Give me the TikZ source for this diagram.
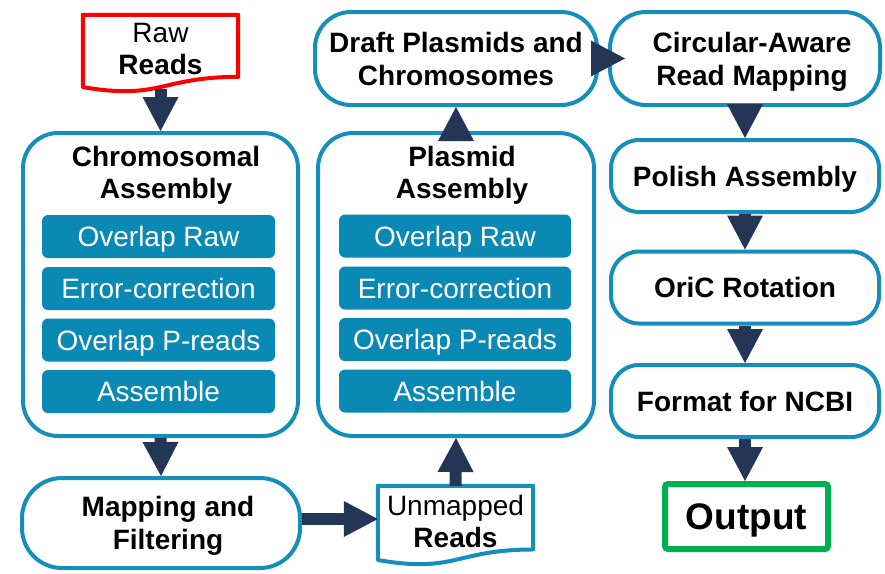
\documentclass[tikz,border=0pt]{standalone}
\usepackage{fontspec}
\setmainfont{Liberation Sans}
\usetikzlibrary{arrows.meta,calc}
\definecolor{bstroke}{RGB}{22,142,188}
\definecolor{bfill}{RGB}{11,137,181}
\definecolor{navy}{RGB}{36,54,86}
\definecolor{rawred}{RGB}{255,0,0}
\definecolor{outgreen}{RGB}{0,176,80}
\tikzset{
  rbox/.style={draw=bstroke,line width=4pt,fill=white,rounded corners=#1,align=center,
    font=\fontsize{28}{33}\selectfont\bfseries,inner sep=0pt,text depth=0pt},
  bigbox/.style={draw=bstroke,line width=4pt,fill=white,rounded corners=35pt,inner sep=0pt},
  titletext/.style={align=center,font=\fontsize{28}{32}\selectfont\bfseries,inner sep=0pt},
  stepbox/.style={fill=bfill,rounded corners=6pt,minimum width=233pt,minimum height=43pt,
    inner sep=0pt,text=white,font=\fontsize{28}{30}\selectfont,text height=20pt,text depth=0pt},
  docnode/.style={inner sep=0pt,align=center,font=\fontsize{28}{32}\selectfont},
  blk/.style={draw=navy,line width=12pt,-{Triangle[length=34pt,width=36pt,line width=0pt]}},
}
\newcommand\docoutline[2]{%
  \draw[#2,line width=4pt,fill=white,line join=round]
    (#1.north west) -- (#1.north east) -- ($(#1.north east)!0.802!(#1.south east)$)
    .. controls ($(#1.north)!0.802!(#1.south)$) and ($(#1.north)!1.107!(#1.south)$)
    .. ($(#1.north west)!0.934!(#1.south west)$) -- cycle;}
\begin{document}
\begin{tikzpicture}[x=1pt,y=-1pt]
\useasboundingbox (0,0) rectangle (885,573);
\fill[white] (0,0) rectangle (885,573);

% documents
\path (160.5,53.5) node[docnode,minimum width=155pt,minimum height=77pt] (raw) {};
\docoutline{raw}{draw=rawred}
\node[docnode] (rawt) at (160.5,49.5) {Raw\\\textbf{Reads}};

\path (455.5,525.5) node[docnode,minimum width=155pt,minimum height=79pt] (unm) {};
\docoutline{unm}{draw=bstroke}
\node[docnode] (unmt) at (455.5,521) {Unmapped\\\textbf{Reads}};

% chromosomal assembly
\node[bigbox,minimum width=275pt,minimum height=303pt] (chrom) at (160.5,284.5) {};
\node[titletext] (chromt) at (166,175.5) {Chromosomal\\Assembly};
\node[stepbox] (c1) at (158.5,236.5) {Overlap Raw};
\node[stepbox] (c2) at (158.5,288.5) {Error-correction};
\node[stepbox] (c3) at (158.5,340) {Overlap P-reads};
\node[stepbox] (c4) at (158.5,391.5) {Assemble};

% plasmid assembly
\node[bigbox,minimum width=276pt,minimum height=303pt] (plas) at (456,284.5) {};
\node[titletext] (plast) at (462,175.5) {Plasmid\\Assembly};
\node[stepbox,minimum width=232pt] (p1) at (455,236) {Overlap Raw};
\node[stepbox,minimum width=232pt] (p2) at (455,288) {Error-correction};
\node[stepbox,minimum width=232pt] (p3) at (455,339.5) {Overlap P-reads};
\node[stepbox,minimum width=232pt] (p4) at (455,391) {Assemble};

% mapping
\node[rbox=40pt,minimum width=278pt,minimum height=90pt] (map) at (161,523) {\hspace*{14pt}Mapping and\\\hspace*{14pt}Filtering\rule[-3pt]{0pt}{0pt}};

% draft
\node[rbox=36pt,minimum width=282pt,minimum height=93pt] (draft) at (456,58.5) {Draft Plasmids and\\Chromosomes};

% right column
\node[rbox=36pt,minimum width=270pt,minimum height=93pt] (circ) at (745,58.5) {\hspace*{14pt}Circular-Aware\\\hspace*{14pt}Read Mapping};
\node[rbox=28pt,minimum width=268pt,minimum height=72pt] (polish) at (745,176) {Polish Assembly};
\node[rbox=28pt,minimum width=268pt,minimum height=72pt] (oric) at (745,287.5) {OriC Rotation};
\node[rbox=28pt,minimum width=268pt,minimum height=72pt] (ncbi) at (745,401) {Format for NCBI};
\node[draw=outgreen,line width=6pt,rounded corners=3pt,fill=white,minimum width=163pt,minimum height=65pt,
  inner sep=0pt,text depth=0pt,font=\fontsize{37}{42}\selectfont\bfseries] (out) at (746.5,516.5) {Output};

% arrows
\draw[blk,shorten <=-3pt] (raw.south) -- (chrom.north);
\draw[blk] (chrom.south) -- (map.north);
\draw[blk] ([yshift=4pt]map.east) -- ([yshift=4pt]map.east -| unm.west);
\draw[blk] (unm.north) -- (plas.south);
\draw[blk] (plas.north) -- (draft.south);
\draw[blk,shorten <=-14pt,shorten >=-17pt] (draft.east) -- (circ.west);
\draw[blk] (circ.south) -- (polish.north);
\draw[blk] (polish.south) -- (oric.north);
\draw[blk] (oric.south) -- (ncbi.north);
\draw[blk] (ncbi.south) -- (ncbi.south |- out.north);
\end{tikzpicture}
\end{document}
